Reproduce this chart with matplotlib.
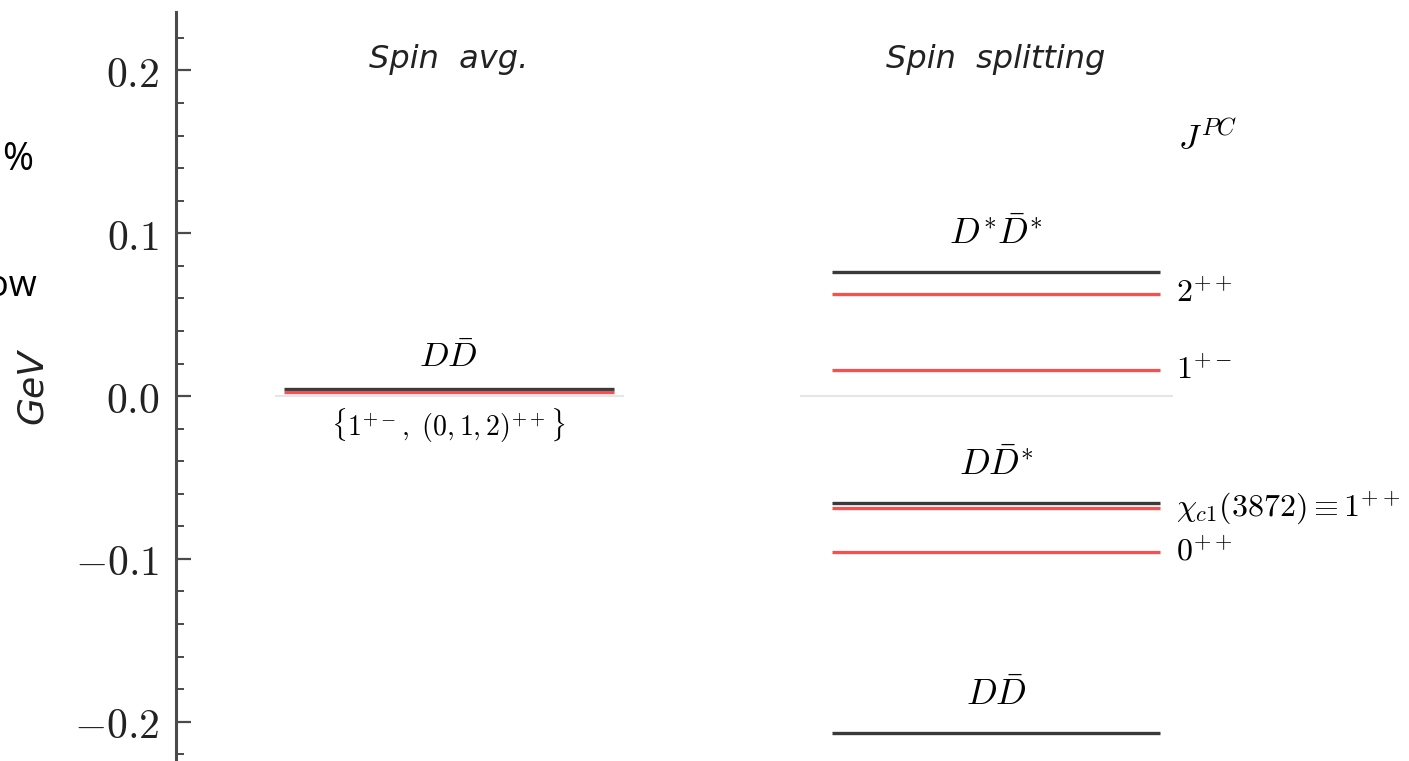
import matplotlib
matplotlib.use('Agg')
import matplotlib.pyplot as plt
from matplotlib.ticker import MultipleLocator, FuncFormatter

plt.rcParams['mathtext.fontset'] = 'cm'

# energies relative to the D Dbar threshold, GeV
avg_levels = [0.0043, 0.0025]
avg_colors = ['#3a3a3a', '#ff4d4d']

split_levels = [0.0765, 0.063, 0.016, -0.0654, -0.069, -0.0957, -0.2068]
split_colors = ['#3a3a3a', '#ff4d4d', '#ff4d4d', '#3a3a3a', '#ff4d4d', '#ff4d4d', '#3a3a3a']

# thresholds (black) named above the line
thresh_names = [r'$D^{*}\bar{D}^{*}$', r'$D\bar{D}^{*}$', r'$D\bar{D}$']
thresh_levels = [0.0765, -0.0654, -0.2068]

# quantum numbers of the states (red) on the right
jpc_names = [r'$2^{++}$', r'$1^{+-}$', r'$\chi_{c1}(3872)\equiv 1^{++}$', r'$0^{++}$']
jpc_levels = [0.063, 0.016, -0.069, -0.0957]

fig = plt.figure(figsize=(14.09, 7.61), dpi=100)
ax = fig.add_axes([176 / 1409, 0, 1 - 176 / 1409, 749 / 761])
ax.set_xlim(0, 10)
ax.set_ylim(-0.2241, 0.2359)

for s in ['top', 'right', 'bottom']:
    ax.spines[s].set_visible(False)
ax.spines['left'].set_linewidth(2.2)
ax.spines['left'].set_color('#4a4a4a')
ax.set_xticks([])

ax.yaxis.set_major_locator(MultipleLocator(0.1))
ax.yaxis.set_minor_locator(MultipleLocator(0.02))
ax.yaxis.set_major_formatter(FuncFormatter(lambda v, p: r'$%.1f$' % (0 if abs(v) < 1e-9 else v)))
ax.tick_params(axis='y', which='major', direction='in', length=10.5, width=1.6,
               color='#4a4a4a', labelsize=30, pad=12, labelcolor='#222222')
ax.tick_params(axis='y', which='minor', direction='in', length=5.5, width=1.4, color='#4a4a4a')
ax.set_ylabel('GeV', fontsize=26, style='italic', labelpad=18, color='#222222')

# faint zero reference in both columns
ax.hlines(0, 0.80, 3.63, color='#e6e6e6', lw=1.5, zorder=1)
ax.hlines(0, 5.06, 8.09, color='#e6e6e6', lw=1.5, zorder=1)

# spin averaged column
for y, c in zip(avg_levels, avg_colors):
    ax.hlines(y, 0.876, 3.55, color=c, lw=2.4, zorder=3)
ax.text(2.21, 0.0135, r'$D\bar{D}$', fontsize=25, ha='center', va='bottom')
ax.text(2.21, -0.0065, r'$\{1^{+-},\ (0,1,2)^{++}\}$', fontsize=20, ha='center', va='top')

# spin splitting column
for y, c in zip(split_levels, split_colors):
    ax.hlines(y, 5.32, 7.98, color=c, lw=2.4, zorder=3)
for name, y in zip(thresh_names, thresh_levels):
    ax.text(6.65, y + 0.0125, name, fontsize=26, ha='center', va='bottom')
for name, y in zip(jpc_names, jpc_levels):
    ax.text(8.11, y, name, fontsize=23, ha='left', va='center')
ax.text(8.13, 0.158, r'$J^{PC}$', fontsize=25, ha='left', va='center')

ax.text(2.21, 0.207, 'Spin  avg.', fontsize=23, style='italic', ha='center', va='center',
        color='#222222')
ax.text(6.65, 0.207, 'Spin  splitting', fontsize=23, style='italic', ha='center', va='center',
        color='#222222')

# leftover slide text at the left edge
fig.text(33 / 1409, 1 - 160 / 761, '%', fontsize=27, family='Open Sans', ha='right', va='center')
fig.text(37 / 1409, 1 - 287 / 761, 'ow', fontsize=26, family='Open Sans', ha='right', va='center')

fig.savefig('out.png', dpi=100)
